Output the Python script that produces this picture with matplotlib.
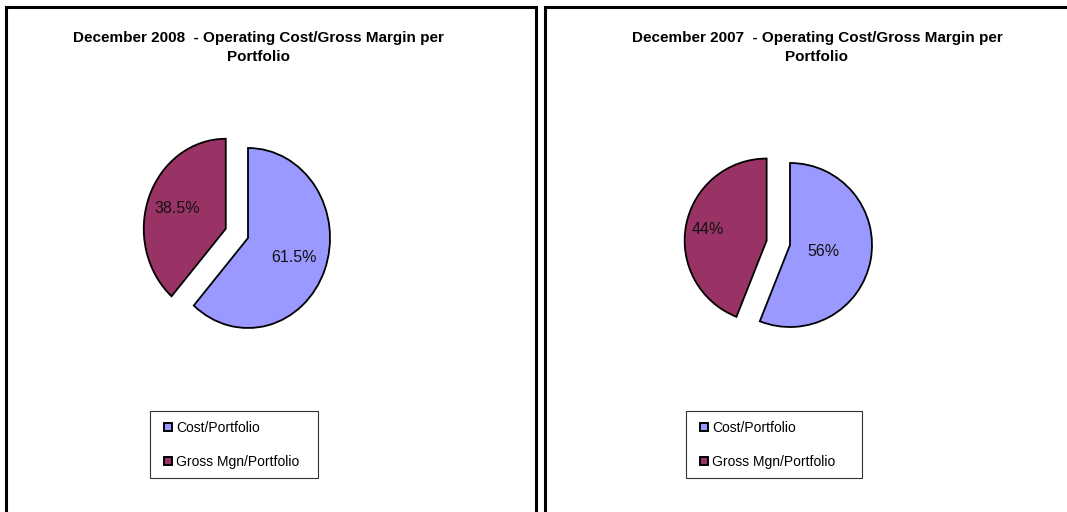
import matplotlib
matplotlib.use("Agg")
import matplotlib.pyplot as plt
from matplotlib.patches import Rectangle
from matplotlib.lines import Line2D
import numpy as np

plt.rcParams["font.family"] = ["Liberation Sans", "DejaVu Sans"]

# data
categories = ["Cost/Portfolio", "Gross Mgn/Portfolio"]
titles = [
    "December 2008  - Operating Cost/Gross Margin per\nPortfolio",
    "December 2007  - Operating Cost/Gross Margin per\nPortfolio",
]
values_2008 = [61.5, 38.5]
values_2007 = [56, 44]
pct_formats = ["%.1f%%", "%.0f%%"]
colors = ["#9999FF", "#993366"]

W, H = 1067, 512
fig = plt.figure(figsize=(W / 100, H / 100), dpi=100)


def px_box(cx, cy, half):
    # axes box in figure fraction, centred on pixel (cx, cy from top)
    return [(cx - half) / W, (H - cy - half) / H, 2 * half / W, 2 * half / H]


# panel frames
fig.add_artist(Rectangle((5.5 / W, -20 / H), 530 / W, (H - 6.5 + 20) / H,
                         transform=fig.transFigure, fill=False, lw=2.2, ec="black"))
fig.add_artist(Rectangle((544.5 / W, -20 / H), 560 / W, (H - 6.5 + 20) / H,
                         transform=fig.transFigure, fill=False, lw=2.2, ec="black"))

panels = [
    # values, pie centre px, x/y radius px, title x, legend box, label distances
    (values_2008, (248, 238), (82, 90), 258, (150, 412, 168), [0.6, 0.63]),
    (values_2007, (790, 245), (82, 82), 817, (686, 412, 176), [0.42, 0.73]),
]

for i, (vals, (cx, cy), (rx, ry), tx, (lx, ly, lw), dists) in enumerate(panels):
    half = 125
    ax = fig.add_axes(px_box(cx, cy, half))
    wedges, _ = ax.pie(vals, colors=colors, startangle=90, counterclock=False,
                       explode=[0, 0.29],
                       wedgeprops=dict(edgecolor="black", linewidth=1.3))
    ax.set_aspect("auto")
    ax.set_xlim(-half / rx, half / rx)
    ax.set_ylim(-half / ry, half / ry)
    ax.axis("off")
    for w, v, d in zip(wedges, vals, dists):
        ang = np.deg2rad((w.theta1 + w.theta2) / 2)
        x0, y0 = w.center
        ax.text(x0 + d * np.cos(ang), y0 + d * np.sin(ang), pct_formats[i] % v,
                ha="center", va="center", fontsize=11.5, color="#111111")

    fig.text(tx / W, 1 - 31 / H, titles[i], ha="center", va="top",
             fontsize=11, fontweight="bold", linespacing=1.42)

    handles = [Line2D([], [], linestyle="none", marker="s", markersize=6,
                      markerfacecolor=c, markeredgecolor="black", markeredgewidth=1.4)
               for c in colors]
    leg = fig.legend(handles, categories, loc="upper left",
                     bbox_to_anchor=(lx / W, 1 - ly / H, lw / W, 0.001),
                     bbox_transform=fig.transFigure, mode="expand",
                     borderaxespad=0, fancybox=False, fontsize=10,
                     handlelength=1.3, handletextpad=-0.05,
                     labelspacing=1.45, borderpad=0.65, frameon=True)
    leg.get_frame().set_edgecolor("black")
    leg.get_frame().set_linewidth(0.8)

fig.savefig("out.png", dpi=100, facecolor="white")
